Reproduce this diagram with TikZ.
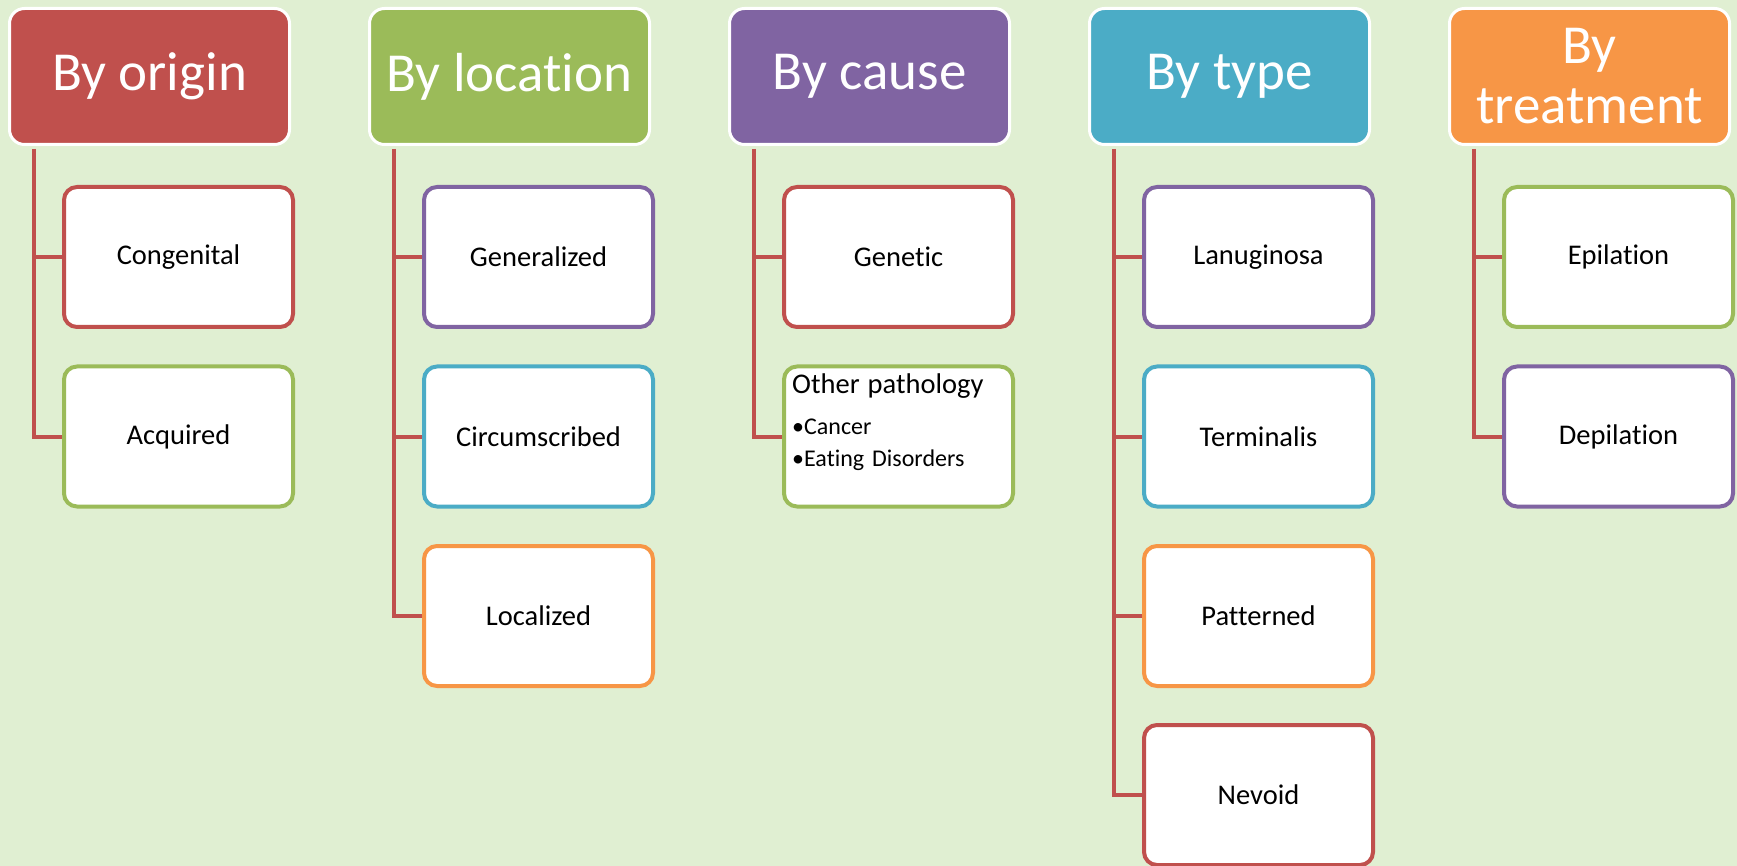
\documentclass[tikz,border=0pt]{standalone}
\usepackage{fontspec}
\setmainfont{Carlito}[Ligatures={NoCommon,NoRequired,NoContextual}]
\definecolor{cred}{HTML}{C0504D}
\definecolor{cgreen}{HTML}{9BBB59}
\definecolor{cpurple}{HTML}{8064A2}
\definecolor{cblue}{HTML}{4BACC6}
\definecolor{corange}{HTML}{F79646}
\definecolor{bg}{RGB}{224,239,210}
\begin{document}
\begin{tikzpicture}[x=1pt,y=-1pt,
  head/.style={rectangle, rounded corners=15pt, draw=white, line width=3pt,
    minimum width=280pt, minimum height=136pt, text=white,
    font=\fontsize{55}{60}\selectfont, align=center, inner sep=0pt},
  leaf/.style={rectangle, rounded corners=13pt, fill=white, line width=4pt,
    minimum width=229pt, minimum height=140pt, text=black,
    font=\fontsize{28.5}{34}\selectfont, inner sep=0pt},
  conn/.style={draw=cred, line width=4pt}]
\fill[bg] (0,0) rectangle (1737,866);
\useasboundingbox (0,0) rectangle (1737,866);

% headers
\node[head, fill=cred]    (h1) at (149.5,76.5)  {By origin};
\node[head, fill=cgreen]  (h2) at (509.5,76.5)  {By location};
\node[head, fill=cpurple] (h3) at (869.5,76.5)  {By cause};
\node[head, fill=cblue]   (h4) at (1229.5,76.5) {By type};
\node[head, fill=corange] (h5) at (1589.5,76.5) {By\\treatment};

% trunk tops
\foreach \i in {1,...,5}
  \coordinate (t\i) at ([xshift=25.5pt,yshift=-3pt]h\i.south west);

% leaves
\node[leaf, draw=cred]    (c11) at (178.5,257)   {Congenital};
\node[leaf, draw=cgreen]  (c12) at (178.5,436.5) {Acquired};

\node[leaf, draw=cpurple] (c21) at (538.5,257)   {Generalized};
\node[leaf, draw=cblue]   (c22) at (538.5,436.5) {Circumscribed};
\node[leaf, draw=corange] (c23) at (538.5,616)   {Localized};

\node[leaf, draw=cred]    (c31) at (898.5,257)   {Genetic};
\node[leaf, draw=cgreen]  (c32) at (898.5,436.5) {};
\node[anchor=north west, inner sep=0pt, text width=200pt, align=left,
      font=\fontsize{24}{32}\selectfont] (c32t) at (792,374)
  {\fontsize{28.5}{34}\selectfont Other pathology\par
   \fontsize{24}{32}\selectfont\vspace{9pt}•Cancer\par
   •Eating Disorders};

\node[leaf, draw=cpurple] (c41) at (1258.5,257)   {Lanuginosa};
\node[leaf, draw=cblue]   (c42) at (1258.5,436.5) {Terminalis};
\node[leaf, draw=corange] (c43) at (1258.5,616)   {Patterned};
\node[leaf, draw=cred]    (c44) at (1258.5,795)   {Nevoid};

\node[leaf, draw=cgreen]  (c51) at (1618.5,257)   {Epilation};
\node[leaf, draw=cpurple] (c52) at (1618.5,436.5) {Depilation};

% connectors
\draw[conn] (t1) |- (c12.west);
\draw[conn] (t1 |- c11.west) -- (c11.west);

\draw[conn] (t2) |- (c23.west);
\draw[conn] (t2 |- c21.west) -- (c21.west);
\draw[conn] (t2 |- c22.west) -- (c22.west);

\draw[conn] (t3) |- (c32.west);
\draw[conn] (t3 |- c31.west) -- (c31.west);

\draw[conn] (t4) |- (c44.west);
\draw[conn] (t4 |- c41.west) -- (c41.west);
\draw[conn] (t4 |- c42.west) -- (c42.west);
\draw[conn] (t4 |- c43.west) -- (c43.west);

\draw[conn] (t5) |- (c52.west);
\draw[conn] (t5 |- c51.west) -- (c51.west);
\end{tikzpicture}
\end{document}
